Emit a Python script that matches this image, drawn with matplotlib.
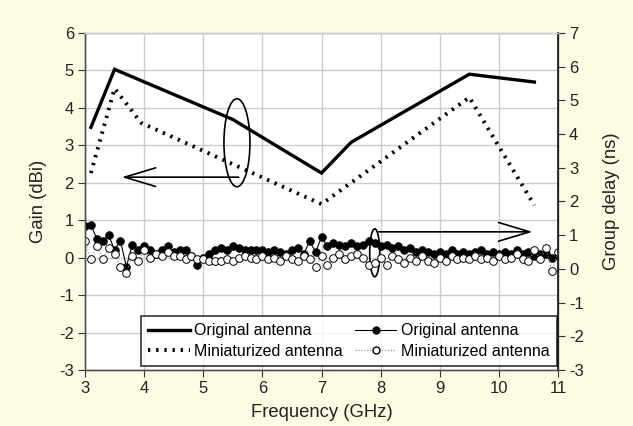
import numpy as np
import matplotlib
matplotlib.use("Agg")
import matplotlib.pyplot as plt
from matplotlib.patches import Ellipse
from matplotlib.lines import Line2D

plt.rcParams['font.family'] = ['Liberation Sans', 'DejaVu Sans']
plt.rcParams['axes.unicode_minus'] = False

# Gain data (dBi)
gain_orig_f = [3.1, 3.5, 5.5, 7.0, 7.5, 9.5, 10.6]
gain_orig = [3.48, 5.03, 3.69, 2.26, 3.08, 4.90, 4.69]
gain_mini_f = [3.1, 3.5, 3.95, 7.0, 9.5, 10.6]
gain_mini = [2.26, 4.52, 3.60, 1.43, 4.28, 1.40]

# Group delay data (ns), sampled every 0.1 GHz from 3.0 to 11.0
gd_freq = np.round(np.arange(3.0, 11.001, 0.1), 1)
gd_orig = [1.28, 1.31, 0.89, 0.83, 1.00, 0.56, 0.83, 0.06, 0.72, 0.56,
           0.67, 0.56, 0.44, 0.56, 0.67, 0.50, 0.56, 0.56, 0.39, 0.11,
           0.33, 0.44, 0.56, 0.61, 0.56, 0.67, 0.61, 0.56, 0.56, 0.56,
           0.56, 0.50, 0.56, 0.50, 0.44, 0.56, 0.61, 0.44, 0.83, 0.50,
           0.94, 0.67, 0.78, 0.72, 0.67, 0.78, 0.67, 0.72, 0.83, 0.78,
           0.67, 0.72, 0.61, 0.67, 0.56, 0.61, 0.50, 0.56, 0.50, 0.44,
           0.50, 0.44, 0.56, 0.44, 0.50, 0.44, 0.50, 0.56, 0.44, 0.50,
           0.44, 0.50, 0.44, 0.56, 0.44, 0.50, 0.39, 0.44, 0.44, 0.33,
           0.39]
gd_mini = [0.83, 0.28, 0.67, 0.28, 0.61, 0.44, 0.06, -0.11, 0.39, 0.22,
           0.56, 0.33, 0.44, 0.39, 0.50, 0.39, 0.39, 0.28, 0.39, 0.28,
           0.28, 0.22, 0.22, 0.22, 0.28, 0.22, 0.33, 0.39, 0.33, 0.28,
           0.39, 0.28, 0.33, 0.22, 0.39, 0.28, 0.22, 0.39, 0.28, 0.06,
           0.39, 0.11, 0.33, 0.44, 0.28, 0.39, 0.44, 0.33, 0.11, 0.17,
           0.33, 0.11, 0.39, 0.28, 0.17, 0.33, 0.22, 0.39, 0.22, 0.17,
           0.33, 0.22, 0.39, 0.28, 0.33, 0.28, 0.39, 0.28, 0.33, 0.22,
           0.39, 0.28, 0.33, 0.44, 0.28, 0.22, 0.56, 0.28, 0.61, -0.06,
           0.50]

x_ticks = [3, 4, 5, 6, 7, 8, 9, 10, 11]
gain_ticks = [-3, -2, -1, 0, 1, 2, 3, 4, 5, 6]
gd_ticks = [-3, -2, -1, 0, 1, 2, 3, 4, 5, 6, 7]

bg = '#FDFBE3'
fig = plt.figure(figsize=(6.33, 4.26), dpi=100, facecolor=bg)
ax = fig.add_axes([85/633, 1 - 370/426, 473/633, 337/426])
ax.set_facecolor('white')
ax2 = ax.twinx()

ax.set_xlim(3, 11)
ax.set_ylim(-3, 6)
ax2.set_ylim(-3, 7)
ax.set_xticks(x_ticks)
ax.set_yticks(gain_ticks)
ax2.set_yticks(gd_ticks)
ax.grid(True, color='#CCCCCC', lw=1.0)
ax.set_axisbelow(True)

for a in (ax, ax2):
    a.tick_params(labelsize=12, length=5, width=0.8, direction='out', colors='#333333',
                  labelcolor='#222222', pad=3)
    for s in a.spines.values():
        s.set_color('#555555')
        s.set_linewidth(1.0)
ax.spines['top'].set_color('#CCCCCC')
ax2.spines['top'].set_color('#CCCCCC')
ax2.spines['right'].set_color('#222222')
ax2.spines['right'].set_linewidth(1.3)

ax.set_xlabel('Frequency (GHz)', fontsize=13.3, color='#222222', labelpad=6)
ax.set_ylabel('Gain (dBi)', fontsize=13.3, color='#222222', labelpad=9)
ax2.set_ylabel('Group delay (ns)', fontsize=13.3, color='#222222', labelpad=14)

l1, = ax.plot(gain_orig_f, gain_orig, color='black', lw=2.4, solid_joinstyle='miter')
l2, = ax.plot(gain_mini_f, gain_mini, color='black', lw=2.8, linestyle=(0, (0.6, 1.5)), dash_capstyle='butt')

l3, = ax2.plot(gd_freq, gd_orig, color='black', lw=0.8, marker='o', ms=5.5, mfc='black', mec='black', mew=0.6)
l4, = ax2.plot(gd_freq, gd_mini, color='#888888', lw=0.8, linestyle=':', marker='o', ms=5.5,
               mfc='white', mec='black', mew=0.7)

# annotations (in gain coords)
arrow_kw = dict(arrowstyle='->,head_length=1.4,head_width=0.42', lw=1.2, color='black',
                mutation_scale=16, shrinkA=0, shrinkB=0)
ax.add_patch(Ellipse((5.57, 3.07), 0.44, 2.35, fill=False, ec='black', lw=1.2, zorder=5))
ax.annotate('', xy=(3.62, 2.15), xytext=(5.6, 2.15), arrowprops=arrow_kw, zorder=5)
ax.add_patch(Ellipse((7.9, 0.13), 0.17, 1.28, fill=False, ec='black', lw=1.2, zorder=6))
ax.annotate('', xy=(10.57, 0.69), xytext=(7.97, 0.69), arrowprops=arrow_kw, zorder=6)

h3 = Line2D([], [], color='black', lw=0.8, marker='o', ms=5, mfc='black', mec='black')
h4 = Line2D([], [], color='#888888', lw=0.8, linestyle=':', marker='o', ms=5, mfc='white', mec='black')
leg = ax2.legend([l1, l2, h3, h4],
                 ['Original antenna', 'Miniaturized antenna', 'Original antenna', 'Miniaturized antenna'],
                 ncol=2, loc='lower left', bbox_to_anchor=(0.118, 0.012, 0.88, 0.139),
                 mode='expand', fontsize=11.5, frameon=True, fancybox=False, borderpad=0.45,
                 handlelength=2.6, handletextpad=0.3, labelspacing=0.35, columnspacing=1.0,
                 borderaxespad=0)
leg.get_frame().set_edgecolor('black')
leg.get_frame().set_linewidth(1.2)
leg.set_zorder(10)

fig.savefig('out.png', dpi=100, facecolor=bg)
